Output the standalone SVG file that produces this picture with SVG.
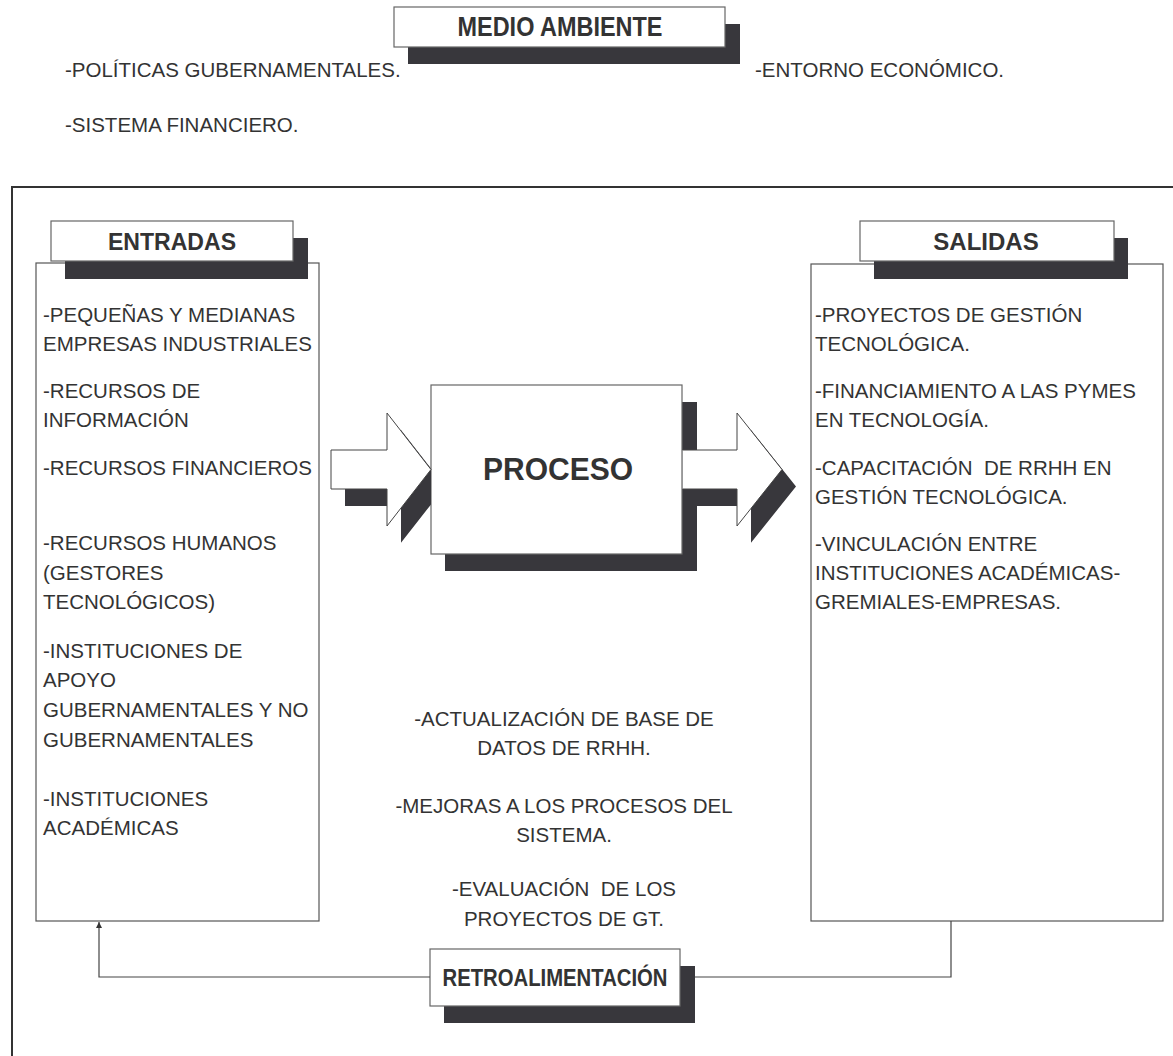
<svg xmlns="http://www.w3.org/2000/svg" width="1173" height="1056" viewBox="0 0 1173 1056">
<defs>
<style>
.t{font-family:"Liberation Sans",Arial,sans-serif;font-size:20.5px;fill:#333;white-space:pre}
.c{text-anchor:middle}
.h{font-family:"Liberation Sans",Arial,sans-serif;font-weight:bold;fill:#333;text-anchor:middle}
.box{fill:#fff;stroke:#666;stroke-width:1.2}
.sh{fill:#38373c}
.panel{fill:#fff;stroke:#555;stroke-width:1.2}
.ln{fill:none;stroke:#444;stroke-width:1.2}
.out{fill:none;stroke:#444;stroke-width:1}
</style>
<marker id="ah" viewBox="0 0 10 10" refX="10" refY="5" markerWidth="6" markerHeight="9" orient="auto" markerUnits="userSpaceOnUse">
<path d="M0,0 L10,5 L0,10 Z" fill="#333"/>
</marker>
</defs>
<rect width="1173" height="1056" fill="#fff"/>

<g id="frame">
<polyline points="12,1056 12,187 1173,187" fill="none" stroke="#333" stroke-width="2"/>
</g>

<g id="medio-ambiente">
<rect class="sh" x="408" y="24" width="332" height="40"/>
<rect class="box" x="394" y="7" width="331" height="40"/>
<text class="h" x="560" y="36" font-size="27" textLength="205" lengthAdjust="spacingAndGlyphs">MEDIO AMBIENTE</text>
<text class="t" x="65" y="77">-POLÍTICAS GUBERNAMENTALES.</text>
<text class="t" x="755" y="77">-ENTORNO ECONÓMICO.</text>
<text class="t" x="65" y="132">-SISTEMA FINANCIERO.</text>
</g>

<g id="entradas">
<rect class="panel" x="36" y="263" width="283" height="658"/>
<rect class="sh" x="65" y="238" width="243" height="41"/>
<rect class="box" x="51" y="221" width="242" height="40"/>
<text class="h" x="172" y="250" font-size="24" textLength="128" lengthAdjust="spacingAndGlyphs">ENTRADAS</text>
<text class="t" x="43" y="322">-PEQUEÑAS Y MEDIANAS</text>
<text class="t" x="43" y="351">EMPRESAS INDUSTRIALES</text>
<text class="t" x="43" y="398">-RECURSOS DE</text>
<text class="t" x="43" y="427">INFORMACIÓN</text>
<text class="t" x="43" y="475">-RECURSOS FINANCIEROS</text>
<text class="t" x="43" y="550">-RECURSOS HUMANOS</text>
<text class="t" x="43" y="580">(GESTORES</text>
<text class="t" x="43" y="609">TECNOLÓGICOS)</text>
<text class="t" x="43" y="658">-INSTITUCIONES DE</text>
<text class="t" x="43" y="687">APOYO</text>
<text class="t" x="43" y="717">GUBERNAMENTALES Y NO</text>
<text class="t" x="43" y="747">GUBERNAMENTALES</text>
<text class="t" x="43" y="806">-INSTITUCIONES</text>
<text class="t" x="43" y="835">ACADÉMICAS</text>
</g>

<g id="salidas">
<rect class="panel" x="811" y="264" width="352" height="657"/>
<rect class="sh" x="874" y="238" width="254" height="41"/>
<rect class="box" x="860" y="221" width="254" height="40"/>
<text class="h" x="986" y="250" font-size="24">SALIDAS</text>
<text class="t" x="815" y="322">-PROYECTOS DE GESTIÓN</text>
<text class="t" x="815" y="351">TECNOLÓGICA.</text>
<text class="t" x="815" y="398">-FINANCIAMIENTO A LAS PYMES</text>
<text class="t" x="815" y="427">EN TECNOLOGÍA.</text>
<text class="t" x="815" y="475">-CAPACITACIÓN  DE RRHH EN</text>
<text class="t" x="815" y="504">GESTIÓN TECNOLÓGICA.</text>
<text class="t" x="815" y="551">-VINCULACIÓN ENTRE</text>
<text class="t" x="815" y="580">INSTITUCIONES ACADÉMICAS-</text>
<text class="t" x="815" y="609">GREMIALES-EMPRESAS.</text>
</g>

<g id="proceso">
<rect class="sh" x="445" y="402" width="252" height="169"/>
<rect class="box" x="431" y="385" width="251" height="169"/>
<text class="h" x="558" y="480" font-size="32" textLength="150" lengthAdjust="spacingAndGlyphs">PROCESO</text>
</g>

<g id="mejoras">
<text class="t c" x="564" y="726">-ACTUALIZACIÓN DE BASE DE</text>
<text class="t c" x="564" y="755">DATOS DE RRHH.</text>
<text class="t c" x="564" y="813">-MEJORAS A LOS PROCESOS DEL</text>
<text class="t c" x="564" y="842">SISTEMA.</text>
<text class="t c" x="564" y="896">-EVALUACIÓN  DE LOS</text>
<text class="t c" x="564" y="926">PROYECTOS DE GT.</text>
</g>

<g id="retroalimentacion">
<rect class="sh" x="444" y="966" width="251" height="57"/>
<rect class="box" x="430" y="949" width="250" height="57"/>
<text class="h" x="555" y="986" font-size="23" textLength="225" lengthAdjust="spacingAndGlyphs">RETROALIMENTACIÓN</text>
</g>

<g id="connectors">
<polyline class="ln" points="430,977 99,977 99,922" marker-end="url(#ah)"/>
<polyline class="ln" points="695,977 951,977 951,921"/>
<polygon class="sh" points="345,467 401,467 401,430 431,468.5 431,504.4 401,542.7 401,506 345,506"/>
<polygon points="331,450 387,450 387,413 431,469.5 387,526 387,489 331,489" fill="#fff" stroke="#444" stroke-width="1"/>
<polygon class="sh" points="696,467 751,467 751,430 796,486.5 751,542.7 751,506 696,506"/>
<polygon points="682.6,450 737,450 737,413 782,469.5 737,526 737,489 682.6,489" fill="#fff"/>
<polyline class="out" points="682.6,450 737,450 737,413 782,469.5 737,526 737,489 682.6,489"/>
</g>
</svg>
